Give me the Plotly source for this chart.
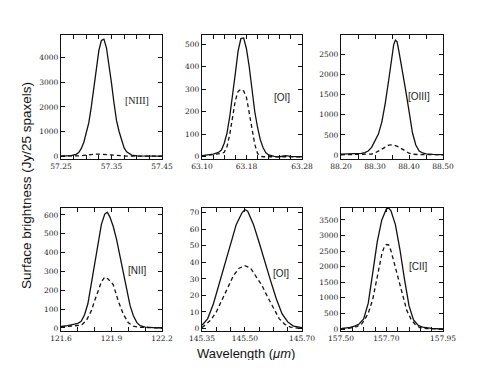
import plotly.graph_objects as go
from plotly.subplots import make_subplots

# ---- data ----
# [NIII] 57.3 um
wl_n3 = [57.25, 57.26, 57.27, 57.28, 57.285, 57.29, 57.295, 57.30, 57.305, 57.31, 57.315, 57.32, 57.325,
         57.33, 57.335, 57.34, 57.345, 57.35, 57.355, 57.36, 57.365, 57.37, 57.375, 57.38, 57.39, 57.40,
         57.42, 57.45]
flux_n3 = [0, 5, 20, 70, 140, 300, 550, 950, 1350, 2000, 2800, 3620, 4300,
           4710, 4760, 4410, 3770, 2970, 2150, 1440, 1000, 620, 330, 170, 40, 10,
           0, 0]
wl_n3_d = [57.25, 57.28, 57.29, 57.30, 57.31, 57.32, 57.33, 57.34, 57.35, 57.36, 57.37, 57.38, 57.45]
flux_n3_d = [0, 0, 10, 40, 70, 80, 75, 55, 30, 15, 5, 0, 0]

# [OI] 63.2 um
wl_o63 = [63.10, 63.11, 63.12, 63.13, 63.135, 63.14, 63.145, 63.15, 63.155, 63.16, 63.165, 63.17, 63.175,
          63.18, 63.185, 63.19, 63.195, 63.20, 63.205, 63.21, 63.215, 63.22, 63.23, 63.24, 63.25, 63.26,
          63.27, 63.28]
flux_o63 = [5, 8, 12, 20, 30, 60, 105, 180, 265, 370, 470, 525, 528,
            480, 400, 300, 200, 130, 75, 40, 18, 8, 2, 0, 5, 2,
            0, 0]
wl_o63_d = [63.10, 63.12, 63.13, 63.135, 63.14, 63.145, 63.15, 63.155, 63.16, 63.165, 63.17, 63.175, 63.18,
            63.185, 63.19, 63.195, 63.20, 63.205, 63.21, 63.22, 63.24, 63.28]
flux_o63_d = [3, 8, 12, 15, 20, 45, 100, 175, 250, 290, 300, 292, 265,
              195, 118, 55, 15, 3, 0, 0, 0, 0]

# [OIII] 88.4 um
wl_o3 = [88.20, 88.22, 88.24, 88.26, 88.27, 88.28, 88.29, 88.30, 88.31, 88.32, 88.33, 88.34, 88.35,
         88.355, 88.36, 88.365, 88.37, 88.38, 88.39, 88.40, 88.41, 88.42, 88.43, 88.44, 88.45, 88.47, 88.50]
flux_o3 = [20, 25, 30, 40, 60, 100, 190, 340, 520, 820, 1280, 1850, 2470,
           2750, 2860, 2820, 2600, 2150, 1620, 1100, 560, 250, 100, 50, 30, 15, 10]
wl_o3_d = [88.20, 88.25, 88.28, 88.29, 88.30, 88.31, 88.32, 88.33, 88.34, 88.35, 88.36, 88.37, 88.38,
           88.39, 88.40, 88.41, 88.43, 88.50]
flux_o3_d = [5, 10, 15, 25, 50, 100, 160, 210, 245, 250, 235, 200, 150,
             90, 45, 20, 10, 5]

# [NII] 121.9 um
wl_n2 = [121.60, 121.64, 121.68, 121.70, 121.72, 121.74, 121.76, 121.78, 121.80, 121.82, 121.84, 121.86,
         121.875, 121.89, 121.91, 121.93, 121.95, 121.97, 121.99, 122.01, 122.03, 122.05, 122.07, 122.10,
         122.15, 122.20]
flux_n2 = [8, 12, 20, 25, 35, 70, 130, 235, 355, 460, 550, 605,
           615, 590, 540, 470, 385, 295, 200, 120, 65, 30, 12, 5,
           2, 0]
wl_n2_d = [121.60, 121.68, 121.72, 121.75, 121.78, 121.80, 121.82, 121.84, 121.86, 121.88, 121.91, 121.94,
           121.97, 122.00, 122.03, 122.06, 122.20]
flux_n2_d = [5, 10, 15, 38, 91, 145, 196, 245, 270, 260, 231, 144,
             74, 28, 10, 4, 0]

# [OI] 145.5 um
wl_o145 = [145.35, 145.37, 145.39, 145.41, 145.43, 145.45, 145.47, 145.49, 145.50, 145.51, 145.53, 145.55,
           145.57, 145.59, 145.61, 145.63, 145.65, 145.67, 145.70]
flux_o145 = [2, 6, 15, 27, 40, 52, 63, 70, 72, 71, 63, 52,
             40, 29, 18, 9, 4, 1.5, 0.5]
wl_o145_d = [145.35, 145.36, 145.38, 145.40, 145.42, 145.44, 145.46, 145.48, 145.50, 145.52, 145.54, 145.56,
             145.58, 145.60, 145.62, 145.64, 145.66, 145.70]
flux_o145_d = [0.5, 2, 5, 10, 17, 25, 32, 36.5, 38, 36.5, 31.5, 26,
               19, 12, 6, 2.5, 0.8, 0]

# [CII] 157.7 um
wl_c2 = [157.50, 157.52, 157.54, 157.56, 157.58, 157.60, 157.62, 157.64, 157.66, 157.68, 157.70, 157.71,
         157.72, 157.74, 157.76, 157.78, 157.80, 157.82, 157.84, 157.86, 157.88, 157.90, 157.93, 157.95]
flux_c2 = [10, 25, 50, 90, 160, 320, 820, 1800, 2800, 3500, 3850, 3880,
           3800, 3350, 2550, 1600, 750, 290, 120, 60, 30, 18, 8, 5]
wl_c2_d = [157.50, 157.54, 157.57, 157.59, 157.60, 157.62, 157.64, 157.66, 157.68, 157.69, 157.70, 157.71,
           157.72, 157.73, 157.75, 157.77, 157.79, 157.81, 157.83, 157.85, 157.88, 157.95]
flux_c2_d = [8, 30, 80, 150, 250, 500, 950, 1700, 2400, 2620, 2710, 2700,
             2520, 2250, 1700, 1100, 600, 300, 120, 40, 10, 0]

line_names = ["[NIII]", "[OI]", "[OIII]", "[NII]", "[OI]", "[CII]"]

# tick marks / labels per panel
xticks = [
    [57.25, 57.275, 57.30, 57.325, 57.35, 57.375, 57.40, 57.425, 57.45],
    [63.10, 63.12, 63.14, 63.16, 63.18, 63.20, 63.22, 63.24, 63.26, 63.28],
    [88.20, 88.25, 88.30, 88.35, 88.40, 88.45, 88.50],
    [121.6, 121.7, 121.8, 121.9, 122.0, 122.1, 122.2],
    [145.35, 145.40, 145.45, 145.50, 145.55, 145.60, 145.65, 145.70],
    [157.50, 157.55, 157.60, 157.65, 157.70, 157.75, 157.80, 157.85, 157.90, 157.95],
]
xlabels = [
    ["57.25", "57.35", "57.45"],
    ["63.10", "63.18", "63.28"],
    ["88.20", "88.30", "88.40", "88.50"],
    ["121.6", "121.9", "122.2"],
    ["145.35", "145.50", "145.70"],
    ["157.50", "157.70", "157.95"],
]
yticks = [
    [0, 1000, 2000, 3000, 4000],
    [0, 100, 200, 300, 400, 500],
    [0, 500, 1000, 1500, 2000, 2500],
    [0, 100, 200, 300, 400, 500, 600],
    [0, 10, 20, 30, 40, 50, 60, 70],
    [0, 500, 1000, 1500, 2000, 2500, 3000, 3500],
]

# ---- layout: page is 491x368, the html body keeps an 8px margin ----
PAGE_W, PAGE_H, PAD = 491, 368, 8
W, H = PAGE_W - 2 * PAD, PAGE_H - 2 * PAD


def px_x(x):
    return (x - PAD) / W


def px_y(y):
    return 1 - (y - PAD) / H


xr = [[57.25, 57.45], [63.10, 63.28], [88.20, 88.50], [121.6, 122.2], [145.35, 145.70], [157.50, 157.95]]
yr = [[-120, 4930], [-10, 541], [-100, 2990], [-16, 637], [-1.5, 72.9], [-64, 3882]]
cols_px = [(61, 162), (202, 302), (341, 443)]
rows_px = [(35, 159), (208, 331)]
label_pos = [(137, 100), (282, 98), (419, 96), (137, 270), (281, 273), (418, 266)]

solids = [(wl_n3, flux_n3), (wl_o63, flux_o63), (wl_o3, flux_o3),
          (wl_n2, flux_n2), (wl_o145, flux_o145), (wl_c2, flux_c2)]
dashes = [(wl_n3_d, flux_n3_d), (wl_o63_d, flux_o63_d), (wl_o3_d, flux_o3_d),
          (wl_n2_d, flux_n2_d), (wl_o145_d, flux_o145_d), (wl_c2_d, flux_c2_d)]

fig = make_subplots(rows=2, cols=3)
tick_font = dict(family="DejaVu Serif", size=7.5, color="#222")

for i in range(6):
    r, c = i // 3 + 1, i % 3 + 1
    fig.add_trace(go.Scatter(x=dashes[i][0], y=dashes[i][1], mode="lines", showlegend=False,
                             line=dict(color="#111", width=1.3, dash="4px,3px")), row=r, col=c)
    fig.add_trace(go.Scatter(x=solids[i][0], y=solids[i][1], mode="lines", showlegend=False,
                             line=dict(color="#111", width=1.3)), row=r, col=c)
    x0, x1 = cols_px[c - 1]
    y0, y1 = rows_px[r - 1]
    nd = len(xlabels[i][0].split(".")[1])
    txt = []
    for v in xticks[i]:
        s = f"{v:.{nd}f}"
        txt.append(s if s in xlabels[i] else "")
    fig.update_xaxes(row=r, col=c, domain=[px_x(x0), px_x(x1)], range=xr[i], automargin=False,
                     tickvals=xticks[i], ticktext=txt, tickfont=tick_font,
                     ticks="inside", ticklen=4, tickcolor="#111", mirror="allticks",
                     showline=True, linecolor="#111", linewidth=1.3, showgrid=False, zeroline=False)
    fig.update_yaxes(row=r, col=c, domain=[px_y(y1), px_y(y0)], range=yr[i], automargin=False,
                     tickvals=yticks[i], tickfont=tick_font,
                     ticks="inside", ticklen=4, tickcolor="#111", mirror="allticks",
                     showline=True, linecolor="#111", linewidth=1.3, showgrid=False, zeroline=False)
    lx, ly = label_pos[i]
    fig.add_annotation(x=px_x(lx), y=px_y(ly), xref="paper", yref="paper", text=line_names[i],
                       showarrow=False, xanchor="center", yanchor="middle",
                       font=dict(family="Liberation Serif" if i == 0 else "Liberation Sans",
                                 size=10, color="#222"))

fig.add_annotation(x=px_x(26), y=px_y(186), xref="paper", yref="paper", textangle=-90,
                   text="Surface brightness (Jy/25 spaxels)", showarrow=False,
                   xanchor="center", yanchor="middle",
                   font=dict(family="Liberation Sans", size=13.5, color="#111"))
fig.add_annotation(x=px_x(246), y=px_y(353), xref="paper", yref="paper",
                   text="Wavelength (<i>μm</i>)", showarrow=False,
                   xanchor="center", yanchor="middle",
                   font=dict(family="Liberation Sans", size=13, color="#111"))

fig.update_layout(width=W, height=H, margin=dict(l=0, r=0, t=0, b=0),
                  paper_bgcolor="white", plot_bgcolor="white")
fig.write_html("out.html")
